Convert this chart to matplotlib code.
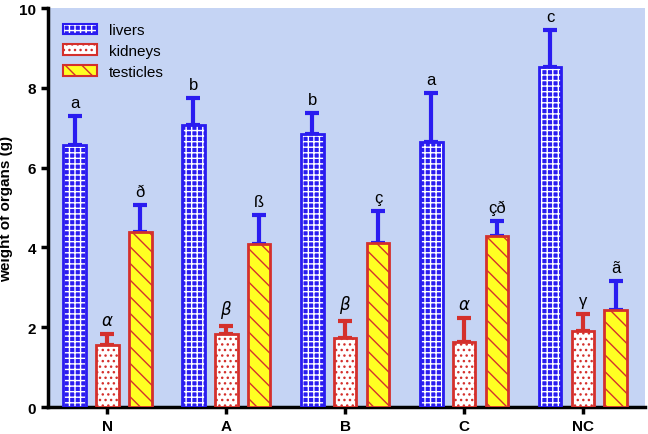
import numpy as np
import matplotlib.pyplot as plt
import matplotlib as mpl
from matplotlib.patches import Rectangle
from matplotlib.legend_handler import HandlerTuple

mpl.rcParams['font.family'] = ['Liberation Sans', 'DejaVu Sans']
mpl.rcParams['hatch.linewidth'] = 1.0

groups = ['N', 'A', 'B', 'C', 'NC']
livers = [6.57, 7.07, 6.84, 6.64, 8.52]
livers_err = [0.72, 0.67, 0.53, 1.23, 0.93]
kidneys = [1.55, 1.83, 1.73, 1.63, 1.90]
kidneys_err = [0.28, 0.20, 0.42, 0.60, 0.43]
testicles = [4.39, 4.08, 4.11, 4.29, 2.43]
testicles_err = [0.67, 0.73, 0.80, 0.37, 0.73]
livers_lab = ['a', 'b', 'b', 'a', 'c']
kidneys_lab = [r'$\alpha$', r'$\beta$', r'$\beta$', r'$\alpha$', 'γ']
testicles_lab = ['ð', 'ß', 'ç', 'çð', 'ã']

blue = '#2a1cf0'
red = '#d4302c'
yellow = '#ffff22'

fig = plt.figure(figsize=(6.48, 4.35), dpi=100)
ax = fig.add_axes([0.074, 0.062, 0.921, 0.917])
ax.set_facecolor('#c5d4f4')

x = np.arange(len(groups))
w = 0.19
off = 0.276

series = [
    (livers, livers_err, livers_lab, -off, blue, 'white', '+++', blue, blue, 'livers'),
    (kidneys, kidneys_err, kidneys_lab, 0, 'white', red, '...', red, red, 'kidneys'),
    (testicles, testicles_err, testicles_lab, off, yellow, red, '\\\\', red, blue, 'testicles'),
]

handles = []
for vals, errs, labs, dx, fc, hc, hatch, ec, errc, name in series:
    xs = x + dx
    ax.errorbar(xs, vals, yerr=[np.zeros(len(vals)), errs], fmt='none',
                ecolor=errc, elinewidth=3, capsize=5, capthick=3, zorder=2)
    ax.bar(xs, vals, width=w, facecolor=fc, edgecolor=hc, hatch=hatch, linewidth=0, zorder=3)
    ax.bar(xs, vals, width=w, facecolor='none', edgecolor=ec, linewidth=2, zorder=4)
    for xi, v, e, lab in zip(xs, vals, errs, labs):
        ax.text(xi, v + e + 0.15, lab, ha='center', va='bottom', fontsize=12, zorder=5)
    handles.append((Rectangle((0, 0), 1, 1, facecolor=fc, edgecolor=hc, hatch=hatch, linewidth=0),
                    Rectangle((0, 0), 1, 1, facecolor='none', edgecolor=ec, linewidth=1.5)))

ax.legend(handles, [s[-1] for s in series], loc='upper left', frameon=False,
          fontsize=11, bbox_to_anchor=(0.01, 0.985), handlelength=2.2, handleheight=0.7,
          labelspacing=0.45, borderaxespad=0.2,
          handler_map={tuple: HandlerTuple(ndivide=1, pad=0)})

ax.set_xlim(-0.5, 4.52)
ax.set_ylim(0, 10)
ax.set_yticks([0, 2, 4, 6, 8, 10])
ax.set_xticks(x)
ax.set_xticklabels(groups, fontweight='bold', fontsize=11)
for t in ax.get_yticklabels():
    t.set_fontweight('bold')
    t.set_fontsize(11)
ax.set_ylabel('weight of organs (g)', fontweight='bold', fontsize=11)
ax.yaxis.set_label_coords(-0.058, 0.5)
ax.spines['top'].set_visible(False)
ax.spines['right'].set_visible(False)
ax.spines['left'].set_linewidth(2.5)
ax.spines['bottom'].set_linewidth(2.5)
ax.tick_params(width=2.5, length=5)

fig.savefig('out.png', dpi=100)
